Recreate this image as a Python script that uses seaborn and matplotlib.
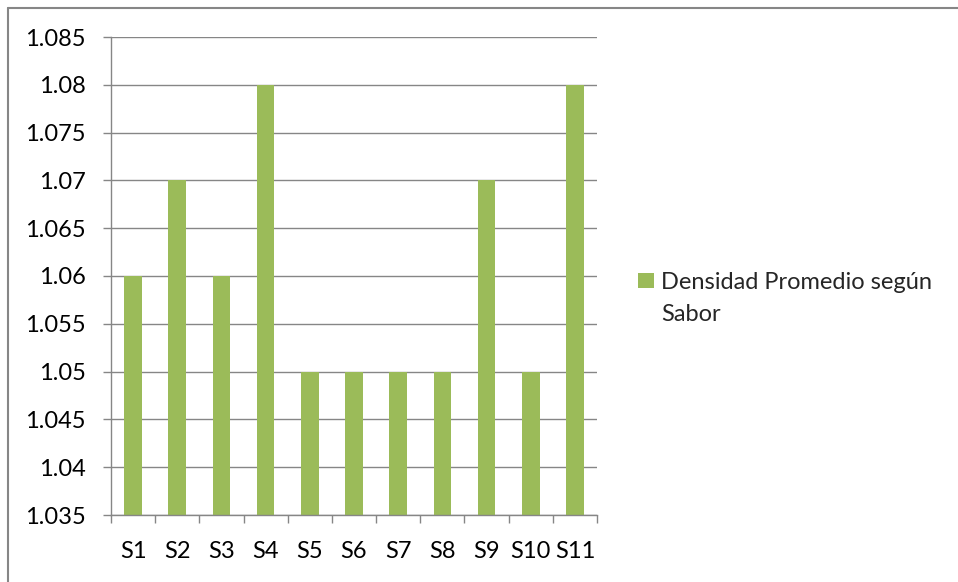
import matplotlib
matplotlib.use("Agg")
import matplotlib.pyplot as plt
import seaborn as sns
import pandas as pd
from matplotlib.lines import Line2D
from matplotlib.patches import Rectangle
from matplotlib.ticker import FixedLocator, MultipleLocator

# Average density per flavour
sabores = ["S1", "S2", "S3", "S4", "S5", "S6", "S7", "S8", "S9", "S10", "S11"]
densidad = [1.06, 1.07, 1.06, 1.08, 1.05, 1.05, 1.05, 1.05, 1.07, 1.05, 1.08]
serie = ["Densidad Promedio según", "Sabor"]

sns.set_theme(style="white")
plt.rcParams["font.family"] = ["Lato", "DejaVu Sans"]

GREEN = "#9BBB59"
GRAY = "#868686"
FS = 17
W, H = 958, 582

df = pd.DataFrame({"sabor": sabores, "densidad": densidad})

fig = plt.figure(figsize=(W / 100, H / 100), dpi=100)
ax = fig.add_axes([111 / W, 1 - 515 / H, (597 - 111) / W, (515 - 37) / H])

sns.barplot(data=df, x="sabor", y="densidad", color=GREEN, saturation=1,
            width=0.4, linewidth=0, ax=ax, zorder=3)

ax.set_ylim(1.035, 1.085)
ax.set_xlim(-0.5, len(sabores) - 0.5)
ax.yaxis.set_major_locator(MultipleLocator(0.005))
ax.set_yticklabels([f"{v:g}" for v in ax.get_yticks()])
ax.grid(axis="y", color=GRAY, linewidth=1, zorder=0)
ax.set_axisbelow(True)

for side in ("top", "right"):
    ax.spines[side].set_visible(False)
for side in ("left", "bottom"):
    ax.spines[side].set_color(GRAY)
    ax.spines[side].set_linewidth(1)
    ax.spines[side].set_zorder(4)

# category boundaries carry the tick marks, centres carry the labels
ax.xaxis.set_minor_locator(FixedLocator([i - 0.5 for i in range(len(sabores) + 1)]))
ax.tick_params(axis="x", which="major", length=0, pad=19, labelsize=FS, colors="black")
ax.tick_params(axis="x", which="minor", length=6, width=1, color=GRAY, bottom=True, direction="out")
ax.tick_params(axis="y", which="major", length=6, width=1, color=GRAY, left=True, pad=12,
               labelsize=FS, labelcolor="black")
ax.set_xlabel("")
ax.set_ylabel("")

# legend: colour key beside a two-line series name
fig.add_artist(Rectangle((638 / W, 1 - 288 / H), 16 / W, 15 / H,
                         transform=fig.transFigure, facecolor=GREEN, edgecolor="none"))
fig.text(661 / W, 1 - 289 / H, serie[0], fontsize=FS, va="baseline", ha="left")
fig.text(661 / W, 1 - 321 / H, serie[1], fontsize=FS, va="baseline", ha="left")

# chart frame
fig.add_artist(Line2D([8 / W, 1], [1 - 7.5 / H, 1 - 7.5 / H],
                      transform=fig.transFigure, color=GRAY, linewidth=1.5))
fig.add_artist(Line2D([8 / W, 8 / W], [0, 1 - 7.5 / H],
                      transform=fig.transFigure, color=GRAY, linewidth=1.5))

fig.savefig("out.png", dpi=100, facecolor="white")
